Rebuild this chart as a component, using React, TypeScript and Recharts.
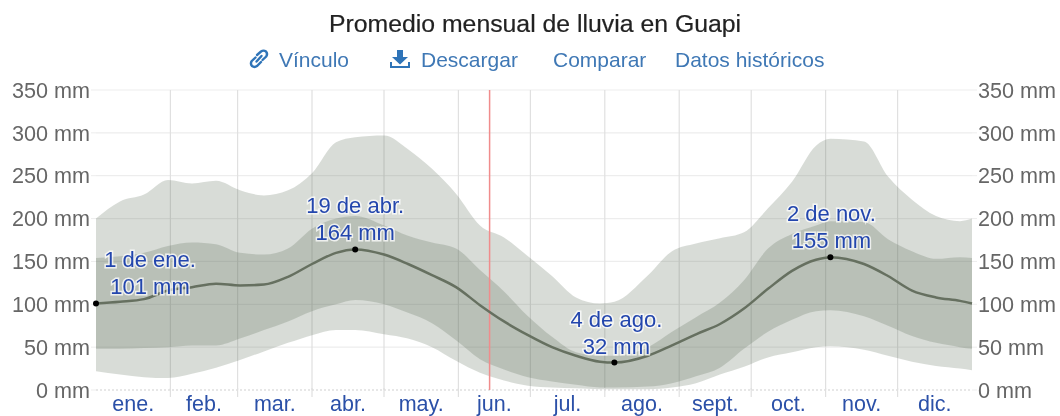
import React from "react";
import { ComposedChart, Area, Line, XAxis, YAxis, CartesianGrid, ReferenceLine, ReferenceDot } from "recharts";

const days = [0,10,20,30,40,50,60,70,80,90,100,108,120,130,140,150,160,170,180,190,200,210,216,230,240,250,260,270,280,290,300,306,320,330,340,350,360,365];
const p90 = [200,220,228,245,241,244,233,227,233,253,289,295,297,281,258,229,192,178,156,133,108,101,103,134,162,171,177,184,212,243,285,293,290,249,222,203,197,200];
const p75 = [154,156,160,168,172,170,160,158,165,188,200,203,192,180,172,165,140,115,86,62,44,40,40,50,68,85,102,128,165,182,192,197,196,176,162,153,155,154];
const median = [101,103,106,116,120,124,122,123,132,147,160,164,158,147,134,120,99,80,64,50,40,33,32,40,52,65,77,95,118,139,152,155,147,133,116,108,104,101];
const p25 = [48,48,49,50,52,52,60,70,80,92,100,105,100,90,78,58,36,24,15,10,6,3,3,4,8,16,26,48,68,82,92,93,86,75,63,55,50,48];
const p10 = [22,18,15,14,19,26,35,45,55,64,70,70,65,60,50,34,20,11,5,3,2,1,1,1,3,8,18,27,38,44,50,51,47,40,33,28,25,23];

const monthLabels = ["ene.","feb.","mar.","abr.","may.","jun.","jul.","ago.","sept.","oct.","nov.","dic."];
const monthStarts = [0,31,59,90,120,151,181,212,243,273,304,334,365];
const yTicks = [0,50,100,150,200,250,300,350];
const todayDay = 164;

const calloutDays = [0,108,216,306];
const calloutValues = [101,164,32,155];
const calloutDates = ["1 de ene.","19 de abr.","4 de ago.","2 de nov."];
const calloutAmounts = ["101 mm","164 mm","32 mm","155 mm"];
const calloutShift = [54,0,2,1];

const links = ["Vínculo","Descargar","Comparar","Datos históricos"];
const linkLeft = [279,421,553,675];

const rows = days.map((d, i) => ({
  day: d,
  outer: [p10[i], p90[i]],
  inner: [p25[i], p75[i]],
  median: median[i],
}));

const mids = monthLabels.map((_, i) => (monthStarts[i] + monthStarts[i + 1]) / 2);
const bounds = monthStarts.slice(1, 12);
const xTicks = [...bounds, ...mids].sort((a, b) => a - b);
const FONT = "'Liberation Sans', Arial, sans-serif";

const MonthTick = (props: any) => {
  const { x, y, payload } = props;
  const m = mids.indexOf(payload.value);
  if (m < 0) return <line x1={x} x2={x} y1={y - 10} y2={y - 1} stroke="#e0e0e0" strokeWidth={1.2} />;
  return (
    <text x={x} y={y + 13} textAnchor="middle" fontSize={21.5} fontFamily={FONT} fill="#2b50a8">
      {monthLabels[m]}
    </text>
  );
};

const calloutLabel = (i: number) => (props: any) => {
  const vb = props.viewBox || {};
  const cx = (vb.x ?? 0) + (vb.width ?? 0) / 2 + calloutShift[i];
  const cy = (vb.y ?? 0) + (vb.height ?? 0) / 2;
  const style: any = { paintOrder: "stroke", stroke: "rgba(255,255,255,0.75)", strokeWidth: 3 };
  return (
    <g fontSize={22} fontFamily={FONT} fill="#2346ad" textAnchor="middle">
      <text x={cx} y={cy - 36} style={style}>{calloutDates[i]}</text>
      <text x={cx} y={cy - 9} style={style}>{calloutAmounts[i]}</text>
    </g>
  );
};

const LinkIcon = () => (
  <svg width={22} height={24} viewBox="0 0 22 24" style={{ position: "absolute", left: 248, top: 47 }}>
    <g fill="none" stroke="#2f74b8" strokeWidth={2.4} strokeLinecap="round">
      <path d="M9 8 L13 4.5 Q15.5 2.8 18 4.5 Q20 7 18.2 9.5 L14.5 13" />
      <path d="M13 15 L9 19 Q6.5 20.8 4 19 Q2 16.5 3.8 14 L7.5 10.5" />
      <path d="M8.5 14.5 L13.5 9" />
    </g>
  </svg>
);

const DownloadIcon = () => (
  <svg width={24} height={24} viewBox="0 0 24 24" style={{ position: "absolute", left: 388, top: 47 }}>
    <path d="M9 3 H15 V10 H20 L12 17.5 L4 10 H9 Z" fill="#2f74b8" />
    <path d="M2 15 V21 H22 V15 H20 V19 H4 V15 Z" fill="#2f74b8" />
  </svg>
);

export default function App() {
  return (
    <div style={{ position: "absolute", left: 0, top: 0, width: 1060, height: 416, background: "#fff", overflow: "hidden", fontFamily: FONT, filter: "blur(0.45px)" }}>
      <div style={{ position: "absolute", left: 0, width: 1070, top: 10, textAlign: "center", fontSize: 24.8, lineHeight: "28px", color: "#222", WebkitTextStroke: "0.2px #222" }}>
        Promedio mensual de lluvia en Guapi
      </div>
      <LinkIcon />
      <DownloadIcon />
      {links.map((t, i) => (
        <div key={t} style={{ position: "absolute", left: linkLeft[i], top: 47, fontSize: 21, lineHeight: "26px", color: "#3f78b5", whiteSpace: "nowrap" }}>
          {t}
        </div>
      ))}
      <div style={{ position: "absolute", left: 0, top: 0 }}>
        <ComposedChart width={1060} height={416} data={rows} margin={{ top: 90, right: 0, bottom: 0, left: 0 }}>
          <CartesianGrid stroke="#ededed" strokeWidth={1.2} vertical={false} horizontalValues={yTicks.slice(1)} />
          <CartesianGrid stroke="#e0e0e0" strokeWidth={1.2} horizontal={false} verticalValues={bounds} />
          <XAxis
            dataKey="day"
            type="number"
            domain={[0, 365]}
            ticks={xTicks}
            interval={0}
            height={26}
            axisLine={false}
            tickLine={false}
            tick={MonthTick}
          />
          <YAxis
            domain={[0, 350]}
            ticks={yTicks}
            width={96}
            interval={0}
            axisLine={false}
            tickSize={5}
            tickMargin={1}
            tickLine={{ stroke: "#ededed" }}
            tickFormatter={(v: number) => `${v} mm`}
            tick={{ fontSize: 21.6, fontFamily: FONT, fill: "#666" }}
          />
          <YAxis
            yAxisId="right"
            orientation="right"
            domain={[0, 350]}
            ticks={yTicks}
            width={88}
            interval={0}
            axisLine={false}
            tickSize={5}
            tickMargin={1}
            tickLine={{ stroke: "#ededed" }}
            tickFormatter={(v: number) => `${v} mm`}
            tick={{ fontSize: 21.6, fontFamily: FONT, fill: "#666" }}
          />
          <ReferenceLine y={0} stroke="#cfcfcf" strokeWidth={1.2} strokeDasharray="2 2" />
          <Area dataKey="outer" type="monotone" stroke="none" fill="#4f6048" fillOpacity={0.22} isAnimationActive={false} dot={false} activeDot={false} />
          <Area dataKey="inner" type="monotone" stroke="none" fill="#4f6048" fillOpacity={0.22} isAnimationActive={false} dot={false} activeDot={false} />
          <ReferenceLine x={todayDay} stroke="#f08c8c" strokeWidth={1.5} />
          <Line yAxisId="right" dataKey="median" type="monotone" stroke="#667060" strokeWidth={2.5} dot={false} activeDot={false} isAnimationActive={false} />
          {calloutDays.map((d, i) => (
            <ReferenceDot key={d} x={d} y={calloutValues[i]} r={3} fill="#000" stroke="none" label={calloutLabel(i)} />
          ))}
        </ComposedChart>
      </div>
    </div>
  );
}
